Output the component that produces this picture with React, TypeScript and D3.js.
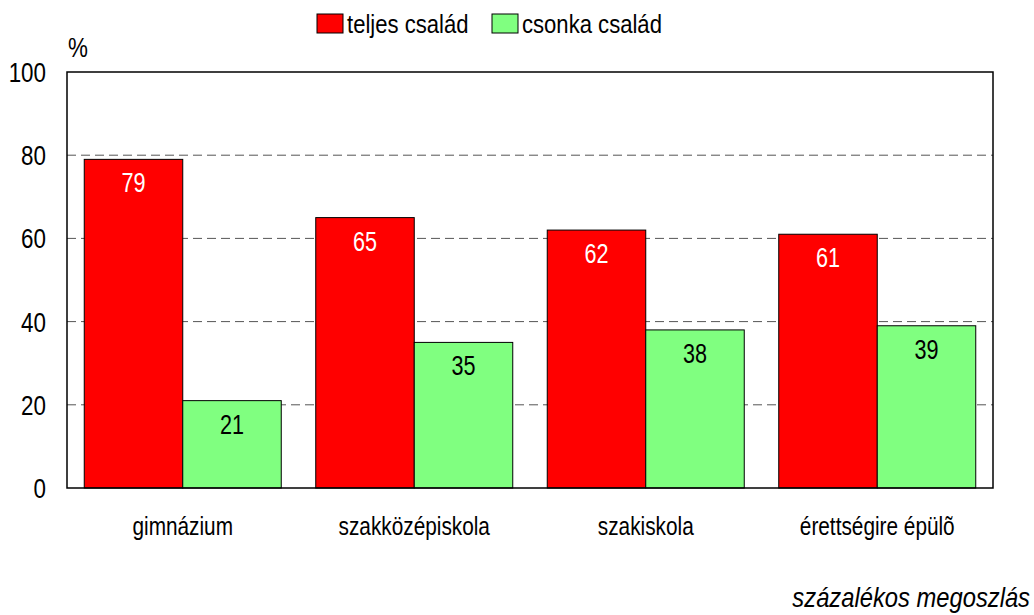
import React from "react";
import * as d3 from "d3";

const categories = ["gimnázium", "szakközépiskola", "szakiskola", "érettségire épülõ"];
const teljes = [79, 65, 62, 61];
const csonka = [21, 35, 38, 39];
const seriesNames = ["teljes család", "csonka család"];
const seriesColors = ["#ff0000", "#80ff80"];
const labelColors = ["#ffffff", "#000000"];
const yTicks = [0, 20, 40, 60, 80, 100];

const W = 1034, H = 615;
const M = { left: 67, right: 993, top: 72, bottom: 488 };
const FONT = "'Liberation Sans', Arial, sans-serif";

function T({ x, y, size, sx = 0.8, anchor = "start", fill = "#000", italic = false, children }: any) {
  return (
    <text
      transform={`translate(${x},${y}) scale(${sx},1)`}
      textAnchor={anchor}
      fontSize={size}
      fill={fill}
      fontStyle={italic ? "italic" : "normal"}
    >
      {children}
    </text>
  );
}

export default function App() {
  const x = d3.scaleBand<string>().domain(categories).range([M.left, M.right]).paddingInner(0.149).paddingOuter(0.0745);
  const inner = d3.scaleBand<number>().domain([0, 1]).range([0, x.bandwidth()]);
  const y = d3.scaleLinear().domain([0, 100]).range([M.bottom, M.top]);
  const series = [teljes, csonka];

  return (
    <svg width={W} height={H} style={{ position: "absolute", left: 0, top: 0 }} fontFamily={FONT}>
      <rect x={0} y={0} width={W} height={H} fill="#fff" />
      {yTicks.filter(t => t > 0 && t < 100).map(t => (
        <line key={t} x1={M.left} x2={M.right} y1={y(t)} y2={y(t)} stroke="#555" strokeWidth={1} strokeDasharray="9,5" />
      ))}
      {categories.map((c, i) => (
        <g key={c}>
          {series.map((s, j) => {
            const bx = (x(c) as number) + (inner(j) as number);
            const by = y(s[i]);
            return (
              <g key={j}>
                <rect x={bx} y={by} width={inner.bandwidth()} height={y(0) - by} fill={seriesColors[j]} stroke="#000" strokeWidth={1} />
                <T x={bx + inner.bandwidth() / 2} y={by + 33} size={27} anchor="middle" fill={labelColors[j]}>{s[i]}</T>
              </g>
            );
          })}
          <T x={(x(c) as number) + x.bandwidth() / 2} y={535} size={26} anchor="middle">{c}</T>
        </g>
      ))}
      <rect x={M.left} y={M.top} width={M.right - M.left} height={M.bottom - M.top} fill="none" stroke="#000" strokeWidth={1.5} />
      {yTicks.map(t => (
        <T key={t} x={46} y={y(t) + 10} size={28} anchor="end">{t}</T>
      ))}
      <T x={68} y={57} size={28}>%</T>
      {seriesNames.map((n, j) => {
        const lx = [317, 492][j];
        return (
          <g key={n}>
            <rect x={lx} y={14} width={26} height={19} fill={seriesColors[j]} stroke="#000" strokeWidth={1} />
            <T x={lx + 30} y={33} size={26} sx={0.85}>{n}</T>
          </g>
        );
      })}
      <T x={1030} y={607} size={27} sx={0.88} anchor="end" italic>százalékos megoszlás</T>
    </svg>
  );
}
